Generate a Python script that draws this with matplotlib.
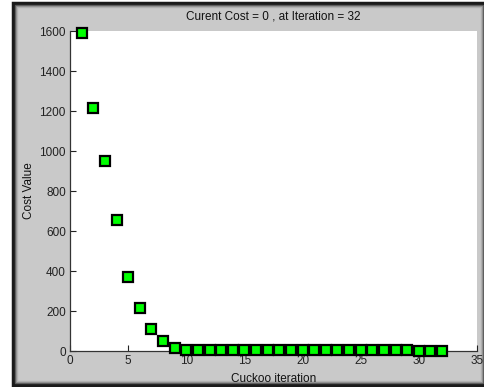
import matplotlib.pyplot as plt
from matplotlib.patches import Rectangle

plt.rcParams['font.family'] = ['Liberation Sans', 'DejaVu Sans']

iterations = list(range(1, 33))
cost = [1590, 1215, 950, 655, 370, 215, 110, 50, 15,
        3, 3, 3, 3, 3, 3, 3, 3, 3, 3,
        3, 3, 3, 3, 3, 3, 3, 3, 3, 3,
        0, 0, 0]
xticks = [0, 5, 10, 15, 20, 25, 30, 35]
yticks = [0, 200, 400, 600, 800, 1000, 1200, 1400, 1600]

W, H = 485, 387
fig = plt.figure(figsize=(W / 100, H / 100), dpi=100, facecolor='white')

# window panel: gray face with a dark bevelled border
fig.patches.append(Rectangle((13 / W, 2 / H), 472 / W, 382 / H, transform=fig.transFigure,
                             facecolor='#c9c9c9', edgecolor='#1a1a1a', linewidth=2.5, zorder=-10))
for i, c in enumerate(['#555555', '#8a8a8a', '#b0b0b0']):
    off = 2 + i
    fig.patches.append(Rectangle(((13 + off) / W, (2 + off) / H), (472 - 2 * off) / W, (382 - 2 * off) / H,
                                 transform=fig.transFigure, facecolor='none', edgecolor=c,
                                 linewidth=1, zorder=-9))

ax = fig.add_axes([70 / W, (H - 351) / H, 407 / W, 320 / H])
ax.set_zorder(1)
ax.set_facecolor('white')
ax.plot(iterations, cost, linestyle='none', marker='s', markersize=7.5,
        markerfacecolor='#00ff00', markeredgecolor='black', markeredgewidth=1.6,
        clip_on=False, zorder=3)

ax.set_xlim(0, 35)
ax.set_ylim(0, 1600)
ax.set_xticks(xticks)
ax.set_yticks(yticks)
ax.tick_params(direction='in', length=4, width=0.8, colors='#222222', labelsize=8.5, pad=3)
for side in ['top', 'right']:
    ax.spines[side].set_visible(False)
for side in ['left', 'bottom']:
    ax.spines[side].set_color('#333333')
    ax.spines[side].set_linewidth(0.9)

ax.set_title('Curent Cost = 0 , at Iteration = 32', fontsize=8.5, color='#111111', pad=8)
ax.set_xlabel('Cuckoo iteration', fontsize=8.5, color='#111111', labelpad=4)
ax.set_ylabel('Cost Value', fontsize=8.5, color='#111111', labelpad=3)

fig.savefig('out.png', dpi=100, facecolor=fig.get_facecolor())
